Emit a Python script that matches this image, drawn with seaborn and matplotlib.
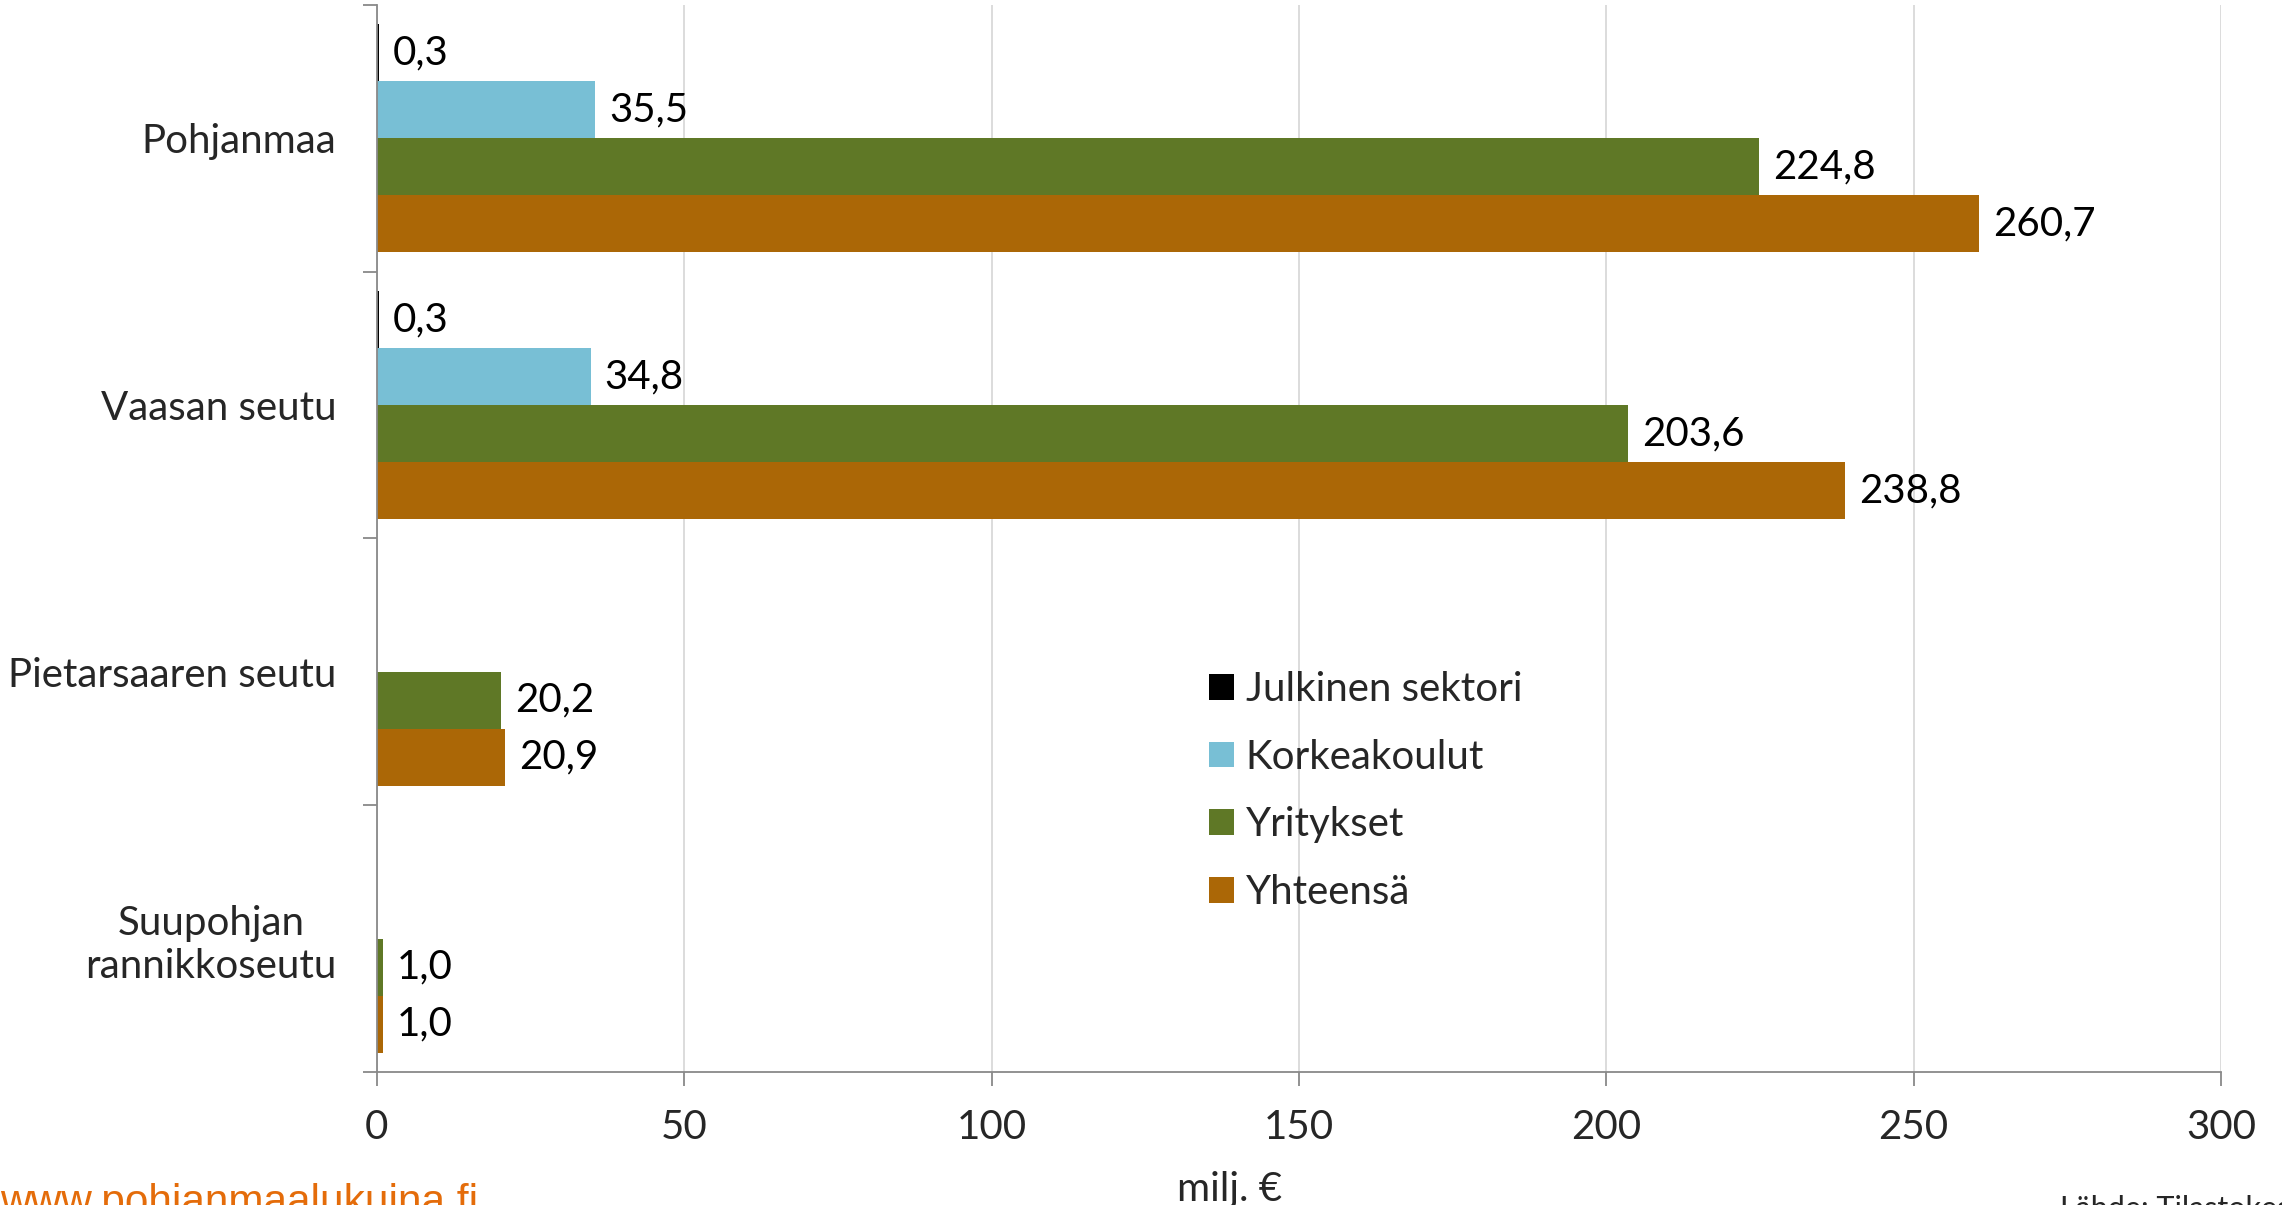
import matplotlib
matplotlib.use("Agg")
import matplotlib.pyplot as plt
from matplotlib.patches import Patch
import seaborn as sns
import pandas as pd
import numpy as np

# data (milj. €)
alueet = ["Pohjanmaa", "Vaasan seutu", "Pietarsaaren seutu", "Suupohjan\nrannikkoseutu"]
sektorit = ["Julkinen sektori", "Korkeakoulut", "Yritykset", "Yhteensä"]
julkinen = [0.3, 0.3, np.nan, np.nan]
korkeakoulut = [35.5, 34.8, np.nan, np.nan]
yritykset = [224.8, 203.6, 20.2, 1.0]
yhteensa = [260.7, 238.8, 20.9, 1.0]
x_ticks = [0, 50, 100, 150, 200, 250, 300]
varit = ["#000000", "#78BFD5", "#5F7826", "#AB6706"]

sns.set_style("white")
plt.rcParams["font.family"] = ["Lato", "DejaVu Sans"]

rows = []
for sektori, arvot in zip(sektorit, [julkinen, korkeakoulut, yritykset, yhteensa]):
    for alue, arvo in zip(alueet, arvot):
        rows.append({"alue": alue, "sektori": sektori, "arvo": arvo})
df = pd.DataFrame(rows).dropna()

fig = plt.figure(figsize=(22.82, 12.05), dpi=100)
ax = fig.add_axes([0.1651, 0.1104, 0.9733 - 0.1651, 0.9959 - 0.1104])

sns.barplot(data=df, x="arvo", y="alue", hue="sektori", order=alueet, hue_order=sektorit,
            palette=varit, width=0.855, errorbar=None, orient="h", saturation=1,
            linewidth=0, legend=False, ax=ax)

fs = 29
for cont in ax.containers:
    labels = [f"{v:.1f}".replace(".", ",") for v in cont.datavalues]
    ax.bar_label(cont, labels=labels, padding=10, fontsize=fs, color="black")

ax.set_xlim(0, 300)
ax.set_ylim(3.5, -0.5)
ax.set_xticks(x_ticks)
ax.set_xticklabels([str(t) for t in x_ticks])
ax.set_xlabel("")
ax.set_ylabel("")

ax.set_axisbelow(True)
ax.xaxis.grid(True, color="#D9D9D9", lw=1.3)
ax.yaxis.grid(False)

for s in ["top", "right"]:
    ax.spines[s].set_visible(False)
for s in ["left", "bottom"]:
    ax.spines[s].set_color("#898989")
    ax.spines[s].set_linewidth(1.3)

ax.tick_params(axis="x", which="major", direction="out", length=10, width=1.3,
               color="#898989", labelsize=fs, pad=17, bottom=True)
ax.tick_params(axis="y", which="major", length=0, labelsize=fs, pad=29)
ax.set_yticks([-0.5, 0.5, 1.5, 2.5, 3.5], minor=True)
ax.tick_params(axis="y", which="minor", direction="out", length=10, width=1.3,
               color="#898989", left=True)
for lab in ax.get_yticklabels():
    lab.set_multialignment("center")

handles = [Patch(facecolor=c, edgecolor="none", label=s) for c, s in zip(varit, sektorit)]
ax.legend(handles=handles, loc="upper left", bbox_to_anchor=(0.530, 0.443),
          bbox_transform=fig.transFigure, frameon=False, fontsize=fs,
          handlelength=0.6, handleheight=0.6, handletextpad=0.3,
          labelspacing=0.76, borderpad=0, borderaxespad=0)

fig.text(1230 / 2282, 1 - 1190 / 1205, "milj. €", fontsize=fs, ha="center", va="center")
fig.text(0.0, -0.0075, "www.pohjanmaalukuina.fi", fontsize=30.5, color="#E46C0A",
         family=["Liberation Sans", "DejaVu Sans"], ha="left", va="baseline")
fig.text(2060 / 2282, -0.0105, "Lähde: Tilastokeskus", fontsize=22, ha="left", va="baseline")

fig.savefig("out.png", dpi=100)
